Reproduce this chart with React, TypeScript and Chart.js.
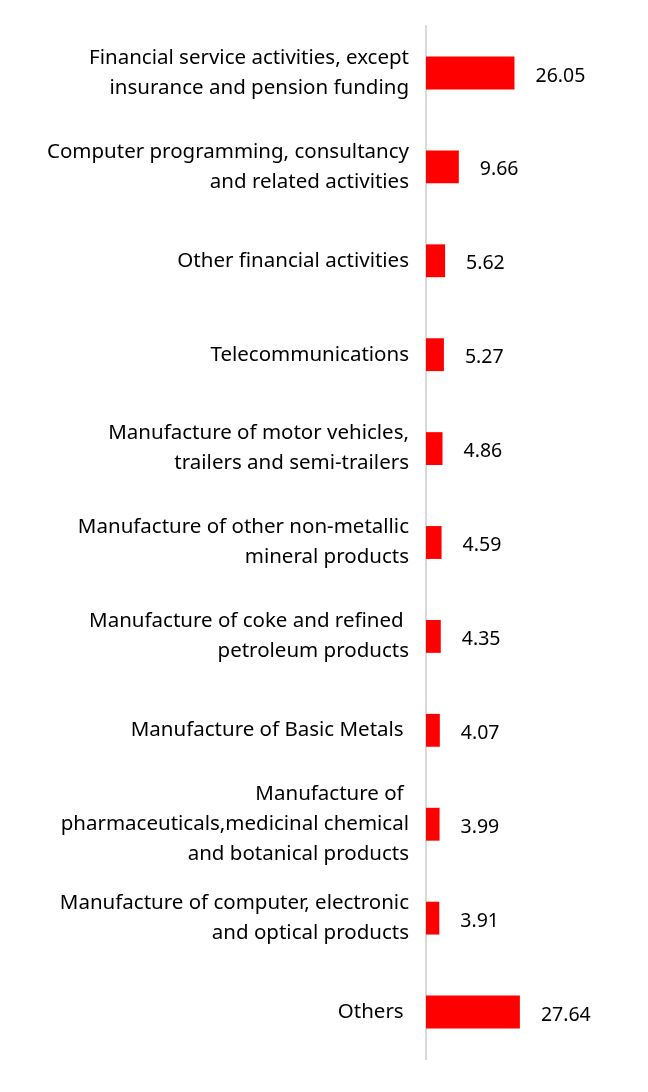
import React, { useEffect, useRef } from "react";
import { Chart, registerables } from "chart.js";

Chart.register(...registerables);

const categories: (string | string[])[] = [
  ["Financial service activities, except", "insurance and pension funding"],
  ["Computer programming, consultancy", "and related activities"],
  "Other financial activities",
  "Telecommunications",
  ["Manufacture of motor vehicles,", "trailers and semi-trailers"],
  ["Manufacture of other non-metallic", "mineral products"],
  ["Manufacture of coke and refined ", "petroleum products"],
  "Manufacture of Basic Metals ",
  ["Manufacture of ", "pharmaceuticals,medicinal chemical", "and botanical products"],
  ["Manufacture of computer, electronic", "and optical products"],
  "Others ",
];

const values: number[] = [26.05, 9.66, 5.62, 5.27, 4.86, 4.59, 4.35, 4.07, 3.99, 3.91, 27.64];

const FONT = "'Noto Sans', sans-serif";

const valueLabels = {
  id: "valueLabels",
  afterDatasetsDraw(chart: any) {
    const ctx = chart.ctx;
    const meta = chart.getDatasetMeta(0);
    ctx.save();
    ctx.font = `19.5px ${FONT}`;
    ctx.fillStyle = "#000";
    ctx.textAlign = "left";
    ctx.textBaseline = "middle";
    meta.data.forEach((bar: any, i: number) => {
      ctx.fillText(values[i].toFixed(2), bar.x + 21, bar.y + 3);
    });
    ctx.restore();
  },
};

export default function App() {
  const ref = useRef<HTMLCanvasElement | null>(null);
  useEffect(() => {
    if (!ref.current) return;
    const chart = new Chart(ref.current, {
      type: "bar",
      data: {
        labels: categories,
        datasets: [
          {
            data: values,
            backgroundColor: "#ff0000",
            borderWidth: 0,
            barPercentage: 0.7,
            categoryPercentage: 0.5,
          },
        ],
      },
      options: {
        indexAxis: "y",
        animation: false,
        responsive: true,
        maintainAspectRatio: false,
        layout: { padding: { top: 18, bottom: 25, left: 0, right: 0 } },
        plugins: { legend: { display: false }, tooltip: { enabled: false } },
        scales: {
          x: { display: false, min: 0, max: 63 },
          y: {
            afterFit(scale: any) {
              scale.width = 418;
              scale.paddingTop = 0;
              scale.paddingBottom = 0;
            },
            grid: { display: false, drawTicks: false },
            border: { display: true, color: "#d9d9d9", width: 2 },
            ticks: {
              padding: 17,
              color: "#000",
              font: { family: FONT, size: 20.5, lineHeight: 1.46 },
            },
          },
        },
      },
      plugins: [valueLabels],
    });
    return () => chart.destroy();
  }, []);
  return (
    <div style={{ width: 632, height: 1076 }}>
      <canvas ref={ref} />
    </div>
  );
}
